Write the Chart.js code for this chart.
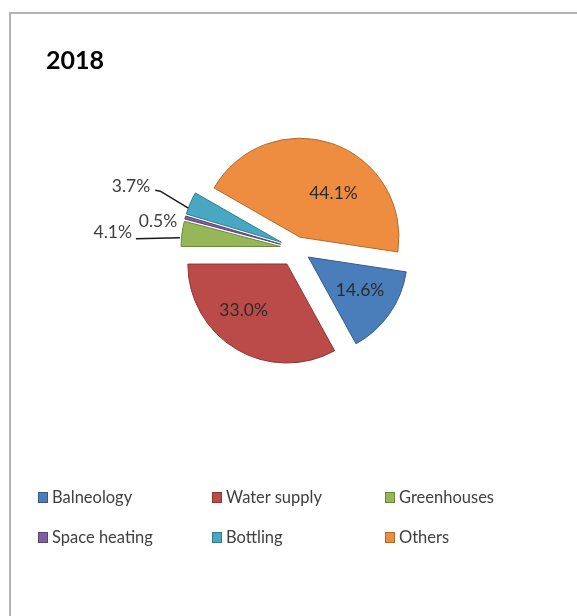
<!DOCTYPE html>
<html>
<head>
<meta charset="utf-8">
<title>2018</title>
<script src="https://cdn.jsdelivr.net/npm/chart.js@4.4.1/dist/chart.umd.min.js"></script>
<style>
  html, body { margin: 0; padding: 0; background: #fff; }
  #wrap { position: relative; width: 577px; height: 616px; overflow: hidden; font-family: Lato, "Open Sans", sans-serif; }
  #frame { position: absolute; left: 9px; top: 12px; width: 700px; height: 700px; border-left: 2px solid #b4b4b4; border-top: 2px solid #b4b4b4; }
  #pie { position: absolute; left: 0; top: 0; }
  #title { position: absolute; left: 46px; top: 47px; font: bold 25px/25px Lato, sans-serif; color: #000; }
  .item { position: absolute; font-size: 16.5px; line-height: 16px; color: #404040; padding-left: 14px; white-space: nowrap; }
  .item i { position: absolute; left: 0; top: 3px; width: 8px; height: 9px; border: 1px solid; }
</style>
</head>
<body>
<div id="wrap">
  <div id="frame"></div>
  <canvas id="pie" width="577" height="616"></canvas>
  <div id="title">2018</div>
  <div id="legend"></div>
</div>
<script>
// data
const labels = ["Balneology", "Water supply", "Greenhouses", "Space heating", "Bottling", "Others"];
const shares = [14.6, 33.0, 4.1, 0.5, 3.7, 44.1];

// styles
const fills = ["#4a7ebb", "#bb4b49", "#96b757", "#7d609f", "#48a8c2", "#ee8d40"];
const edges = ["#34598a", "#8a3533", "#6c873c", "#584373", "#337a8e", "#b06a30"];
const explode = [15, 18, 16, 16, 16, 12];

// where each percentage goes: nudge = inside label, out = outside label (+ leader line)
const labelSpots = [
  { nudge: [3, -1] },
  { nudge: [-13, -5] },
  { out: [-50, -1], line: [[-2, 4], [-46, 5]] },
  { out: [-8, 4] },
  { out: [-40, -17], line: [[-2, 5], [-30, -12], [-35, -13]] },
  { nudge: [14, 12] },
];

// plain explode: shift the slice along its middle angle, no resizing
const baseArcDraw = Chart.ArcElement.prototype.draw;
Chart.ArcElement.prototype.draw = function (ctx) {
  const opts = this.options;
  const shift = opts.offset || 0;
  const mid = (this.startAngle + this.endAngle) / 2;
  ctx.save();
  ctx.translate(Math.cos(mid) * shift, Math.sin(mid) * shift);
  this.options = Object.assign({}, opts, { offset: 0 });
  baseArcDraw.call(this, ctx);
  this.options = opts;
  ctx.restore();
};

const pctLabels = {
  id: "pctLabels",
  afterDatasetsDraw(chart) {
    const ctx = chart.ctx;
    const arcs = chart.getDatasetMeta(0).data;
    ctx.save();
    ctx.font = "17.5px Lato, sans-serif";
    ctx.strokeStyle = "#1a1a1a";
    ctx.lineWidth = 1.5;
    ctx.textBaseline = "middle";
    arcs.forEach((arc, i) => {
      const mid = (arc.startAngle + arc.endAngle) / 2;
      const ux = Math.cos(mid);
      const uy = Math.sin(mid);
      const cx = arc.x + ux * explode[i];
      const cy = arc.y + uy * explode[i];
      const r = arc.outerRadius;
      const spot = labelSpots[i];
      const text = shares[i].toFixed(1) + "%";
      if (spot.out) {
        const px = cx + ux * r;
        const py = cy + uy * r;
        if (spot.line) {
          ctx.beginPath();
          spot.line.forEach(([dx, dy], k) => {
            if (k === 0) ctx.moveTo(px + dx, py + dy);
            else ctx.lineTo(px + dx, py + dy);
          });
          ctx.stroke();
        }
        ctx.fillStyle = "#404040";
        ctx.textAlign = "right";
        ctx.fillText(text, px + spot.out[0], py + spot.out[1]);
      } else {
        ctx.fillStyle = "#2b2b2b";
        ctx.textAlign = "center";
        ctx.fillText(text, cx + ux * r * 0.6 + spot.nudge[0], cy + uy * r * 0.6 + spot.nudge[1]);
      }
    });
    ctx.restore();
  },
};

new Chart(document.getElementById("pie"), {
  type: "pie",
  data: {
    labels: labels,
    datasets: [{
      data: shares,
      backgroundColor: fills,
      borderColor: edges,
      borderWidth: 1,
      offset: explode,
      radius: 99,
    }],
  },
  options: {
    responsive: false,
    animation: false,
    rotation: 98.6,
    layout: { padding: { left: 15, right: 0, top: 0, bottom: 119 } },
    plugins: {
      legend: { display: false },
      tooltip: { enabled: false },
    },
  },
  plugins: [pctLabels],
});

// legend, 3 columns x 2 rows
const colX = [38, 212, 385];
const rowY = [489, 529];
const legend = document.getElementById("legend");
labels.forEach((name, i) => {
  const item = document.createElement("div");
  item.className = "item";
  item.style.left = colX[i % 3] + "px";
  item.style.top = rowY[Math.floor(i / 3)] + "px";
  const box = document.createElement("i");
  box.style.background = fills[i];
  box.style.borderColor = edges[i];
  item.appendChild(box);
  item.appendChild(document.createTextNode(name));
  legend.appendChild(item);
});
</script>
</body>
</html>
